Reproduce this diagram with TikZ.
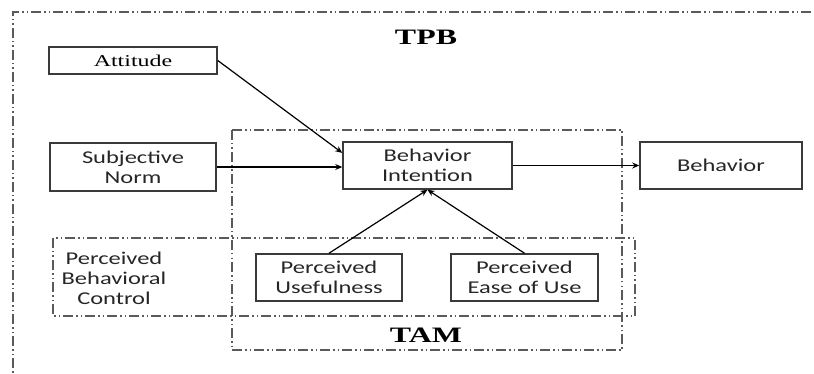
\documentclass[tikz,border=0pt]{standalone}
\usepackage{fontspec}
\setmainfont[FakeStretch=1.45]{Liberation Serif}
\newfontfamily\boxfont[FakeStretch=1.36]{Carlito}
\usetikzlibrary{arrows.meta,calc}
\definecolor{boxgray}{HTML}{3A3A3A}
\definecolor{framegray}{HTML}{5A5A5A}
\definecolor{inkgray}{HTML}{262626}
\tikzset{
  construct/.style={draw=boxgray, line width=1.5pt, inner sep=0pt, align=center,
    font=\fontsize{18}{20}\selectfont\boxfont, text=inkgray},
  serifbox/.style={construct, font=\fontsize{16.5}{20}\selectfont, text=black},
  modelframe/.style={draw=framegray, line width=1.5pt,
    dash pattern=on 10pt off 3pt on 1.5pt off 3pt on 1.5pt off 3pt},
  modeltitle/.style={font=\fontsize{22}{26}\selectfont\bfseries, inner sep=0pt},
  link/.style={draw=black, line width=1.2pt, -{Stealth[length=7pt,width=6pt]}}
}
\begin{document}
\begin{tikzpicture}[x=1pt,y=-1pt]
\useasboundingbox (0,0) rectangle (814,374);
\clip (0,0) rectangle (814,374);

% model frames
\draw[modelframe] (13,390) -- (13,12) -- (830,12);
\draw[modelframe] (232,130) rectangle (622,350);
\draw[modelframe] (53,238) rectangle (635,316);

% titles
\node[modeltitle] (tpb) at (426,37) {TPB};
\node[modeltitle] (tam) at (426,335) {TAM};

% constructs
\node[serifbox, minimum width=168pt, minimum height=27pt] (att) at (133,60.5) {Attitude};
\node[construct, minimum width=166pt, minimum height=48pt] (sn) at (133,167) {Subjective\\Norm};
\node[construct, minimum width=169pt, minimum height=47pt] (bi) at (427.5,165.5) {Behavior\\Intention};
\node[construct, minimum width=162pt, minimum height=47pt] (beh) at (721,165.5) {Behavior};
\node[construct, minimum width=146pt, minimum height=47pt] (pu) at (329,277.5) {Perceived\\Usefulness};
\node[construct, minimum width=147pt, minimum height=47pt] (peou) at (524.5,277.5) {Perceived\\Ease of Use};
\node[construct, draw=none] (pbc) at (114,278) {Perceived\\Behavioral\\Control};

% relations
\draw[link] (att.east) -- ($(bi.north west)!0.24!(bi.south west)$);
\draw[link] (sn.east) -- (sn.east -| bi.west);
\draw[link] (bi.east) -- (beh.west);
\draw[link] (pu.north) -- (bi.south);
\draw[link] (peou.north) -- (bi.south);
\end{tikzpicture}
\end{document}
